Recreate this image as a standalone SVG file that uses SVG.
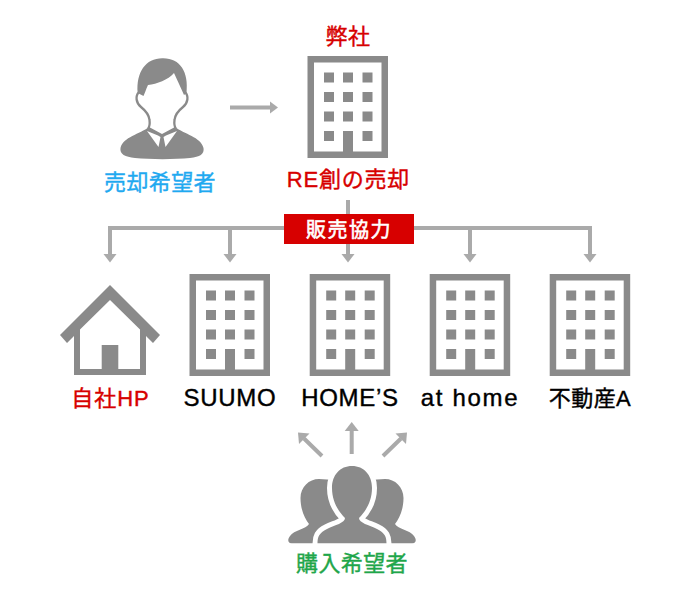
<svg xmlns="http://www.w3.org/2000/svg" width="700" height="600" viewBox="0 0 700 600">
<style>
text{font-family:"Liberation Sans","Noto Sans CJK JP",sans-serif;font-size:22px;font-weight:400;text-anchor:middle;letter-spacing:.4px;stroke-width:.4px}
.lat{font-size:24px;letter-spacing:.7px}
.red{fill:#d70000;stroke:#d70000}.blue{fill:#1fa9f0;stroke:#1fa9f0}.green{fill:#1fa64a;stroke:#1fa64a}.black{fill:#000;stroke:#000}.white{fill:#fff;stroke:#fff}
.ic{fill:#8a8a8a}
.ln{fill:none;stroke:#aaa;stroke-width:4}
.hd{fill:#aaa}
</style>
<defs>
<g id="bld">
<path class="ic" fill-rule="evenodd" d="M0 0H80.500V102H0ZM6.500 6.500V95.500H35.500V75H45.500V95.500H74V6.500Z"/>
<g class="ic"><rect x="16.500" y="16.500" width="10" height="10"/><rect x="35.500" y="16.500" width="10" height="10"/><rect x="55" y="16.500" width="10" height="10"/><rect x="16.500" y="36" width="10" height="10"/><rect x="35.500" y="36" width="10" height="10"/><rect x="55" y="36" width="10" height="10"/><rect x="16.500" y="55.500" width="10" height="10"/><rect x="35.500" y="55.500" width="10" height="10"/><rect x="55" y="55.500" width="10" height="10"/><rect x="16.500" y="75" width="10" height="10"/><rect x="55" y="75" width="10" height="10"/></g>
</g>
</defs>
<g id="connectors">
<path class="ln" d="M230 107.500H270"/><path class="hd" d="M270 101.500L278 107.500L270 113.500Z"/>
<path class="ln" d="M348 200V255M110 255V228H590V255M230 228V255M470 228V255"/>
<g class="hd"><path d="M103.500 254H116.500L110 262.500Z"/><path d="M223.500 254H236.500L230 262.500Z"/><path d="M341.500 254H354.500L348 262.500Z"/><path d="M463.500 254H476.500L470 262.500Z"/><path d="M583.500 254H596.500L590 262.500Z"/></g>
<path class="ln" d="M351.700 454V430M322 456L304 438.500M383 456L401 438.500"/>
<g class="hd"><path d="M344.700 431L351.700 422L358.700 431Z"/><path d="M298 432.500L309.500 433.500L299 444Z"/><path d="M407 432.500L395.500 433.500L406 444Z"/></g>
</g>
<g id="customer">
<path class="ic" d="M149 127C140 134 123 137 120.500 148C119.500 154 125 157 135 158C150 159.500 175 159.500 190 158C200 157 204.500 154 203.500 148C201 137 184 134 175 127L162 134Z"/>
<path fill="#fff" d="M147 131L158.500 147L160.500 137L158 135.500ZM177 131L165.500 147L163.500 137L166 135.500Z"/>
<path fill="none" stroke="#8a8a8a" stroke-width="2.300" d="M139 92C135 96 136 103 141 107C146 111 149 115 149.500 120C150 124 150 126 148 129M185 92C189 96 188 103 183 107C178 111 175 115 174.500 120C174 124 174 126 176 129"/>
<path class="ic" d="M137.700 93C136 72 146 58 162.700 58.300C180 58 189 72 186.500 93L184 95C182 90 178 82 174 73C168 80 157 84 148 85C146 89 145 93 143.500 96Z"/>
</g>
<g id="company"><use href="#bld" x="307.500" y="56"/></g>
<g id="house">
<path class="ic" d="M110 285L160 335L153 343L146 336V375H74V336L67 343L60 335ZM110 300L80 329.500V369H101.700V345H118.300V369H140V329.500Z" fill-rule="evenodd"/>
</g>
<g id="suumo"><use href="#bld" x="189.500" y="274"/></g>
<g id="homes"><use href="#bld" x="309.700" y="274"/></g>
<g id="athome"><use href="#bld" x="429.700" y="274"/></g>
<g id="fudosan"><use href="#bld" x="549.700" y="274"/></g>
<g id="buyers">
<path class="ic" d="M319 479C309 479 300.500 487 300.500 498C300.500 510 305 519 309 524C306 529 294 530 290 536C287 540 288 543.500 292 543.500H350V500L335 480Z"/>
<path class="ic" d="M385 479C395 479 403.500 487 403.500 498C403.500 510 399 519 395 524C398 529 410 530 414 536C417 540 416 543.500 412 543.500H354V500L369 480Z"/>
<path class="ic" stroke="#fff" stroke-width="10" paint-order="stroke" d="M352 466C340 466 332 475 332 488C332 502 339 512 345 518C345 523 335 525 327 529C319 533 317.500 537 317.500 543.500H386.500C386.500 537 385 533 377 529C369 525 359 523 359 518C365 512 372 502 372 488C372 475 364 466 352 466Z"/>
<rect x="280" y="543.500" width="140" height="6" fill="#fff"/>
</g>
<g id="label-bar"><rect x="284" y="214" width="130" height="30" class="red" style="stroke:none"/><text x="349" y="236.500" class="white" style="font-size:20px;letter-spacing:1.500px;stroke-width:.6px">販売協力</text></g>
<g id="labels">
<text x="348" y="44" class="red">弊社</text>
<text x="160" y="190" class="blue">売却希望者</text>
<text x="348.500" y="187" class="red" style="letter-spacing:.8px">RE創の売却</text>
<text x="110.500" y="406" class="red" style="letter-spacing:1px">自社HP</text>
<text x="230" y="406" class="black lat">SUUMO</text>
<text x="350" y="406" class="black lat">HOME’S</text>
<text x="470" y="406" class="black lat" style="letter-spacing:1.700px">at home</text>
<text x="590" y="406" class="black">不動産A</text>
<text x="352" y="571" class="green">購入希望者</text>
</g>
</svg>
